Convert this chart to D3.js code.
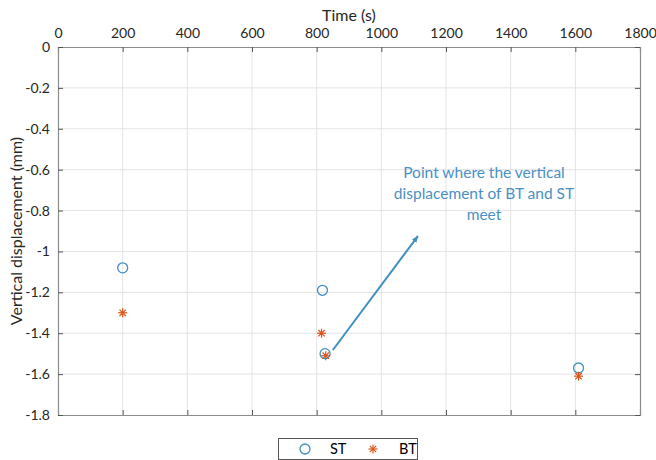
<!DOCTYPE html>
<html>
<head>
<meta charset="utf-8">
<script src="https://cdn.jsdelivr.net/npm/d3@7"></script>
<style>
html,body{margin:0;padding:0;background:#fff;}
svg{display:block;font-family:Lato,"Open Sans",sans-serif;}
</style>
</head>
<body>
<svg id="chart" width="656" height="460"></svg>
<script>
// ---- data ----
const stTime = [200, 818, 826, 1610];
const stDisp = [-1.08, -1.19, -1.50, -1.57];
const btTime = [200, 815, 828, 1610];
const btDisp = [-1.30, -1.40, -1.51, -1.61];
const xTicks = [0, 200, 400, 600, 800, 1000, 1200, 1400, 1600, 1800];
const yTicks = [0, -0.2, -0.4, -0.6, -0.8, -1, -1.2, -1.4, -1.6, -1.8];
const seriesNames = ["ST", "BT"];
const arrowFrom = [850, -1.482];
const arrowTo = [1113, -0.925];
const noteLines = ["Point where the vertical", "displacement of BT and ST", "meet"];
const noteAnchor = [1310, -0.64];

const svg = d3.select("#chart");
const W = 656, H = 460;
const m = {left: 58, right: W - 640, top: 47, bottom: H - 415};
const x = d3.scaleLinear().domain([0, 1800]).range([m.left, W - m.right]);
const y = d3.scaleLinear().domain([-1.8, 0]).range([H - m.bottom, m.top]);

const axisCol = "#8c8c8c", textCol = "#262626";
const stCol = "#3f8fbf", btCol = "#d95319";

// grid
const g = svg.append("g");
g.selectAll(".gx").data(xTicks.slice(1, -1)).join("line")
  .attr("x1", d => x(d)).attr("x2", d => x(d))
  .attr("y1", y(0)).attr("y2", y(-1.8))
  .attr("stroke", "#e3e3e3").attr("stroke-width", 1);
g.selectAll(".gy").data(yTicks.slice(1, -1)).join("line")
  .attr("y1", d => y(d)).attr("y2", d => y(d))
  .attr("x1", x(0)).attr("x2", x(1800))
  .attr("stroke", "#e3e3e3").attr("stroke-width", 1);

// axes
const fmtY = d => d === 0 ? "0" : d3.format("")(d).replace("−", "-");
const axTop = svg.append("g").attr("transform", `translate(0,${y(0)})`)
  .call(d3.axisTop(x).tickValues(xTicks).tickSize(-5).tickPadding(9).tickFormat(d3.format("d")));
const axBot = svg.append("g").attr("transform", `translate(0,${y(-1.8)})`)
  .call(d3.axisBottom(x).tickValues(xTicks).tickSize(-5).tickFormat(""));
const axLeft = svg.append("g").attr("transform", `translate(${x(0)},0)`)
  .call(d3.axisLeft(y).tickValues(yTicks).tickSize(-5).tickPadding(8).tickFormat(fmtY));
const axRight = svg.append("g").attr("transform", `translate(${x(1800)},0)`)
  .call(d3.axisRight(y).tickValues(yTicks).tickSize(-5).tickFormat(""));
[axTop, axBot, axLeft, axRight].forEach(a => {
  a.select(".domain").attr("stroke", axisCol).attr("stroke-width", 1.2);
  a.selectAll(".tick line").attr("stroke", "#555").attr("stroke-width", 1);
  a.selectAll("text").attr("fill", textCol).attr("font-size", 14).attr("font-family", "Lato,'Open Sans',sans-serif");
});

// axis titles
svg.append("text").attr("x", (x(0) + x(1800)) / 2).attr("y", 21)
  .attr("text-anchor", "middle").attr("fill", textCol).attr("font-size", 16)
  .text("Time (s)");
svg.append("text")
  .attr("transform", `translate(22,${(y(0) + y(-1.8)) / 2}) rotate(-90)`)
  .attr("text-anchor", "middle").attr("fill", textCol).attr("font-size", 16)
  .text("Vertical displacement (mm)");

// markers
function star(sel, cx, cy, r, col) {
  const gs = sel.append("g").attr("transform", `translate(${cx},${cy})`)
    .attr("stroke", col).attr("stroke-width", 1.2);
  const d = r * Math.SQRT1_2;
  gs.append("line").attr("x1", -r).attr("x2", r).attr("y1", 0).attr("y2", 0);
  gs.append("line").attr("x1", 0).attr("x2", 0).attr("y1", -r).attr("y2", r);
  gs.append("line").attr("x1", -d).attr("x2", d).attr("y1", -d).attr("y2", d);
  gs.append("line").attr("x1", -d).attr("x2", d).attr("y1", d).attr("y2", -d);
}
const pts = svg.append("g");
pts.selectAll("circle.st").data(stTime.map((t, i) => [t, stDisp[i]])).join("circle")
  .attr("cx", d => x(d[0])).attr("cy", d => y(d[1])).attr("r", 5)
  .attr("fill", "none").attr("stroke", stCol).attr("stroke-width", 1.3);
btTime.forEach((t, i) => star(pts, x(t), y(btDisp[i]), 4.5, btCol));

// annotation arrow
const defs = svg.append("defs");
defs.append("marker").attr("id", "ah").attr("viewBox", "0 0 10 10")
  .attr("refX", 9).attr("refY", 5).attr("markerWidth", 7).attr("markerHeight", 7)
  .attr("orient", "auto").attr("markerUnits", "userSpaceOnUse")
  .append("path").attr("d", "M0,1 L10,5 L0,9 z").attr("fill", stCol);
svg.append("line")
  .attr("x1", x(arrowFrom[0])).attr("y1", y(arrowFrom[1]))
  .attr("x2", x(arrowTo[0])).attr("y2", y(arrowTo[1]))
  .attr("stroke", stCol).attr("stroke-width", 2).attr("marker-end", "url(#ah)");
const note = svg.append("text").attr("fill", "#4a90c6").attr("font-size", 15.5)
  .attr("text-anchor", "middle");
noteLines.forEach((l, i) => {
  note.append("tspan").attr("x", 484).attr("y", y(noteAnchor[1]) + i * 21.2).text(l);
});

// legend
const lg = svg.append("g");
lg.append("rect").attr("x", 278.5).attr("y", 438.5).attr("width", 139).attr("height", 21)
  .attr("fill", "#fff").attr("stroke", "#555").attr("stroke-width", 1);
lg.append("circle").attr("cx", 305).attr("cy", 449).attr("r", 5)
  .attr("fill", "none").attr("stroke", stCol).attr("stroke-width", 1.3);
lg.append("text").attr("x", 330).attr("y", 454).attr("font-size", 14.5).attr("fill", "#000").text(seriesNames[0]);
star(lg, 373, 449, 4.5, btCol);
lg.append("text").attr("x", 399).attr("y", 454).attr("font-size", 14.5).attr("fill", "#000").text(seriesNames[1]);
</script>
</body>
</html>
